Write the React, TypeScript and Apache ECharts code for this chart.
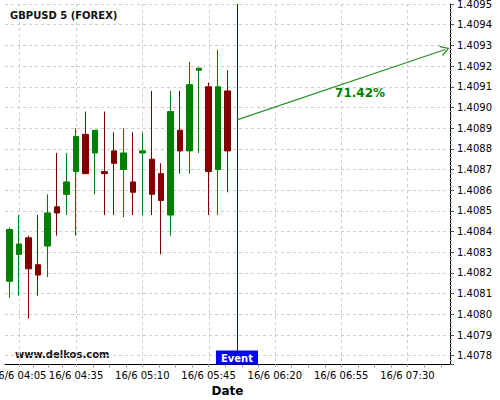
import React, { useEffect, useRef } from 'react';
import * as echarts from 'echarts';

// 5-minute slots on the category axis (16/6 04:00 .. 07:50)
const timeSlots = [
  '16/6 04:00', '16/6 04:05', '16/6 04:10', '16/6 04:15', '16/6 04:20', '16/6 04:25',
  '16/6 04:30', '16/6 04:35', '16/6 04:40', '16/6 04:45', '16/6 04:50', '16/6 04:55',
  '16/6 05:00', '16/6 05:05', '16/6 05:10', '16/6 05:15', '16/6 05:20', '16/6 05:25',
  '16/6 05:30', '16/6 05:35', '16/6 05:40', '16/6 05:45', '16/6 05:50', '16/6 05:55',
  '16/6 06:00', '16/6 06:05', '16/6 06:10', '16/6 06:15', '16/6 06:20', '16/6 06:25',
  '16/6 06:30', '16/6 06:35', '16/6 06:40', '16/6 06:45', '16/6 06:50', '16/6 06:55',
  '16/6 07:00', '16/6 07:05', '16/6 07:10', '16/6 07:15', '16/6 07:20', '16/6 07:25',
  '16/6 07:30', '16/6 07:35', '16/6 07:40', '16/6 07:45', '16/6 07:50',
];

const labelTimes = [
  '16/6 04:05', '16/6 04:35', '16/6 05:10', '16/6 05:45', '16/6 06:20', '16/6 06:55', '16/6 07:30',
];

// OHLC of the 24 candles (04:00 .. 05:55)
const opens = [
  1.40816, 1.40829, 1.40837, 1.40824, 1.40833, 1.40852, 1.40858, 1.40869,
  1.40887, 1.40878, 1.40869, 1.40879, 1.40870, 1.40864, 1.40878, 1.40875,
  1.40868, 1.40848, 1.40889, 1.40879, 1.40918, 1.40910, 1.40870, 1.40908,
];
const closes = [
  1.40841, 1.40834, 1.40822, 1.40819, 1.40849, 1.40849, 1.40864, 1.40886,
  1.40868, 1.40889, 1.40868, 1.40873, 1.40878, 1.40859, 1.40879, 1.40858,
  1.40855, 1.40898, 1.40879, 1.40911, 1.40919, 1.40869, 1.40910, 1.40879,
];
const lows = [
  1.40808, 1.40809, 1.40798, 1.40809, 1.40818, 1.40838, 1.40848, 1.40838,
  1.40868, 1.40858, 1.40848, 1.40848, 1.40847, 1.40848, 1.40848, 1.40848,
  1.40829, 1.40838, 1.40868, 1.40868, 1.40878, 1.40848, 1.40848, 1.40859,
];
const highs = [
  1.40842, 1.40848, 1.40838, 1.40848, 1.40858, 1.40878, 1.40878, 1.40890,
  1.40898, 1.40889, 1.40898, 1.40888, 1.40890, 1.40888, 1.40888, 1.40908,
  1.40873, 1.40908, 1.40908, 1.40922, 1.40919, 1.40912, 1.40928, 1.40918,
];

const yMin = 1.40776;
const yMax = 1.4095;
const yStep = 0.0001;

const eventTime = '16/6 06:00';
const arrowStartValue = 1.40894;
const arrowEndTime = '16/6 07:50';
const arrowEndValue = 1.40928;
const percentTime = '16/6 07:05';
const percentValue = 1.40907;
const percentText = '71.42%';

const FONT = 'DejaVu Sans';

export default function App() {
  const ref = useRef<HTMLDivElement>(null);

  useEffect(() => {
    if (!ref.current) return;
    const chart = echarts.init(ref.current, null, { renderer: 'svg' });
    const candleData = opens.map((o, i) => [o, closes[i], lows[i], highs[i]]);
    const showLabel = (_idx: number, val: string) => labelTimes.indexOf(val) >= 0;
    const gridLineStyle = { color: '#cccccc', type: [3, 3], width: 1 };

    // minor x ticks: quarters between labelled times (in category-index units)
    const labelIdx = labelTimes.map((t) => timeSlots.indexOf(t));
    const minorIdx: number[] = [];
    for (let i = 0; i + 1 < labelIdx.length; i++) {
      const step = (labelIdx[i + 1] - labelIdx[i]) / 4;
      for (let k = 1; k < 4; k++) minorIdx.push(labelIdx[i] + k * step);
    }
    const lastStep = (labelIdx[labelIdx.length - 1] - labelIdx[labelIdx.length - 2]) / 4;
    for (let f = labelIdx[labelIdx.length - 1] + lastStep; f < timeSlots.length - 0.5; f += lastStep) {
      minorIdx.push(f);
    }

    chart.setOption({
      animation: false,
      backgroundColor: '#ffffff',
      textStyle: { fontFamily: FONT },
      title: {
        text: 'GBPUSD 5 (FOREX)',
        left: 10,
        top: 10,
        padding: 0,
        textStyle: { fontFamily: FONT, fontSize: 10, fontWeight: 'bold', color: '#111' },
      },
      graphic: [
        {
          type: 'text',
          left: 15,
          top: 349,
          style: {
            text: 'www.delkos.com',
            fontFamily: FONT,
            fontSize: 10,
            fontWeight: 'bold',
            fill: '#111',
          },
        },
      ],
      grid: { left: 5, right: 50, top: 4, bottom: 36, containLabel: false, outerBoundsMode: 'none' },
      xAxis: {
        type: 'category',
        data: timeSlots,
        boundaryGap: true,
        name: 'Date',
        nameLocation: 'middle',
        nameGap: 21,
        nameTextStyle: { fontFamily: FONT, fontSize: 12, fontWeight: 'bold', color: '#000' },
        axisLine: { show: true, lineStyle: { color: '#000', width: 1 } },
        axisTick: { show: true, alignWithLabel: true, interval: showLabel, length: 3, lineStyle: { color: '#999' } },
        axisLabel: { interval: showLabel, fontFamily: FONT, fontSize: 10, color: '#000', margin: 6 },
        splitLine: { show: false },
      },
      yAxis: {
        type: 'value',
        position: 'right',
        min: yMin,
        max: yMax,
        minInterval: yStep,
        maxInterval: yStep,
        axisLine: { show: true, lineStyle: { color: '#000', width: 1 } },
        axisTick: { show: true, length: 4, lineStyle: { color: '#555' } },
        minorTick: { show: true, splitNumber: 5, length: 2, lineStyle: { color: '#999' } },
        axisLabel: {
          formatter: (v: number) => v.toFixed(4),
          showMinLabel: false,
          showMaxLabel: true,
          fontFamily: FONT,
          fontSize: 10,
          color: '#000',
          margin: 7,
        },
        splitLine: { show: true, lineStyle: gridLineStyle },
      },
      series: [
        {
          // vertical dashed grid lines at the labelled times, behind the candles
          type: 'custom',
          z: 1,
          silent: true,
          encode: { x: 0, y: 1 },
          data: labelTimes.map((t) => [t, yMax]),
          renderItem: (params: any, api: any) => {
            const x = api.coord([api.value(0), yMax])[0];
            const cs = params.coordSys;
            const xs = Math.round(x) + 0.5;
            return {
              type: 'line',
              silent: true,
              shape: { x1: xs, y1: cs.y, x2: xs, y2: cs.y + cs.height },
              style: { stroke: '#cccccc', lineWidth: 1, lineDash: [3, 3] },
            };
          },
        },
        {
          // minor ticks under the x axis
          type: 'custom',
          z: 3,
          silent: true,
          encode: { x: 0, y: 1 },
          data: [[timeSlots[0], yMin]],
          renderItem: (params: any, api: any) => {
            const c0 = api.coord([0, yMin]);
            const c1 = api.coord([1, yMin]);
            const band = c1[0] - c0[0];
            const y = Math.round(c0[1]);
            return {
              type: 'group',
              silent: true,
              children: minorIdx.map((f) => {
                const xs = Math.round(c0[0] + f * band) + 0.5;
                return {
                  type: 'line',
                  shape: { x1: xs, y1: y + 0.5, x2: xs, y2: y + 3.5 },
                  style: { stroke: '#999999', lineWidth: 1 },
                };
              }),
            };
          },
        },
        {
          type: 'candlestick',
          z: 2,
          data: candleData,
          barWidth: 6,
          itemStyle: {
            color: '#008000',
            color0: '#800000',
            borderColor: '#008000',
            borderColor0: '#800000',
            borderWidth: 1,
          },
          markLine: {
            silent: true,
            symbol: ['none', 'none'],
            label: { show: false },
            lineStyle: { color: '#2a8f2a', width: 1.2, type: 'solid' },
            data: [
              [
                {
                  coord: [eventTime, arrowStartValue],
                  symbol: 'none',
                  lineStyle: { color: '#2a8f2a', width: 1.2, type: 'solid' },
                },
                {
                  coord: [arrowEndTime, arrowEndValue],
                  symbol: 'path://M0,10 L5,0 L10,10 L8.6,10 L5,2.6 L1.4,10 Z',
                  symbolSize: [11, 9],
                  lineStyle: { color: '#2a8f2a', width: 1.2, type: 'solid' },
                },
              ],
            ],
          },
          markPoint: {
            silent: true,
            z: 10,
            data: [
              {
                coord: [percentTime, percentValue],
                symbol: 'circle',
                symbolSize: 1,
                itemStyle: { color: 'rgba(0,0,0,0)' },
                label: {
                  show: true,
                  position: 'inside',
                  formatter: percentText,
                  fontFamily: FONT,
                  fontSize: 12,
                  fontWeight: 'bold',
                  color: '#008000',
                },
              },
              {
                coord: [eventTime, yMin],
                symbol: 'circle',
                symbolSize: 1,
                itemStyle: { color: 'rgba(0,0,0,0)' },
                label: {
                  show: true,
                  position: 'top',
                  distance: -1,
                  formatter: 'Event',
                  fontFamily: FONT,
                  fontSize: 10,
                  fontWeight: 'bold',
                  color: '#ffffff',
                  backgroundColor: '#0000ff',
                  padding: [2, 5, 1, 5],
                  lineHeight: 11,
                },
              },
            ],
          },
        },
        {
          // blue event line, drawn as a 1px filled bar
          type: 'custom',
          z: 3,
          silent: true,
          encode: { x: 0, y: 1 },
          data: [[eventTime, yMax]],
          renderItem: (params: any, api: any) => {
            const x = api.coord([api.value(0), yMax])[0];
            const cs = params.coordSys;
            return {
              type: 'rect',
              silent: true,
              shape: { x: Math.round(x), y: cs.y, width: 1, height: cs.height },
              style: { fill: '#0000ff', stroke: null, lineWidth: 0 },
            };
          },
        },
      ],
    });

    return () => chart.dispose();
  }, []);

  return (
    <div
      ref={ref}
      style={{ position: 'absolute', left: 0, top: 0, width: 500, height: 400 }}
    />
  );
}
